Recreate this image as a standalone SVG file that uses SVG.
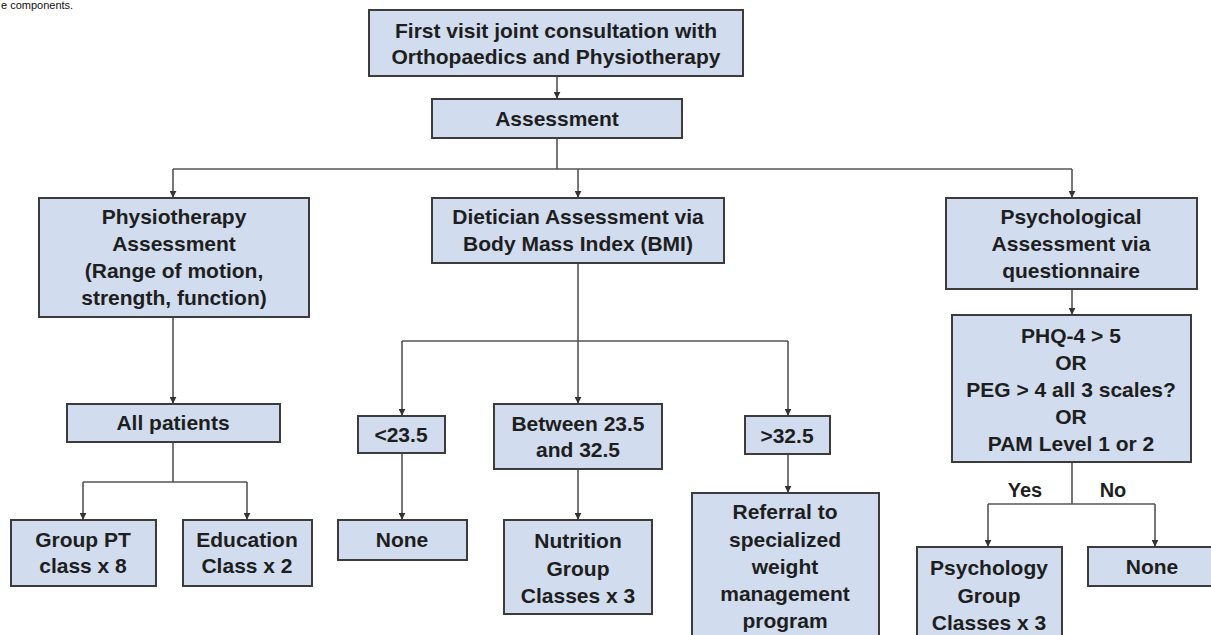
<svg xmlns="http://www.w3.org/2000/svg" width="1211" height="635" viewBox="0 0 1211 635">
<defs>
<style>
.box{fill:#d1dcee;stroke:#3c3c3c;stroke-width:2}
.t{font-family:"Liberation Sans",Arial,sans-serif;font-weight:bold;font-size:21px;fill:#1e1e1e;text-anchor:middle}
.lbl{font-family:"Liberation Sans",Arial,sans-serif;font-weight:bold;font-size:20px;fill:#1e1e1e;text-anchor:middle}
.c{fill:none;stroke:#555;stroke-width:1.6}
.cap{font-family:"Liberation Sans",Arial,sans-serif;font-size:11px;fill:#111}
</style>
<marker id="ah" viewBox="0 0 10 10" refX="9" refY="5" markerWidth="7" markerHeight="7" orient="auto" markerUnits="userSpaceOnUse">
<path d="M0,0 L10,5 L0,10 z" fill="#333"/>
</marker>
</defs>
<rect width="1211" height="635" fill="#fff"/>
<text class="cap" x="1" y="9">e components.</text>

<g id="connectors">
<path class="c" d="M557,76 V98" marker-end="url(#ah)"/>
<path class="c" d="M557,138 V169"/>
<path class="c" d="M173,169 H1072"/>
<path class="c" d="M173,169 V197" marker-end="url(#ah)"/>
<path class="c" d="M578,169 V197" marker-end="url(#ah)"/>
<path class="c" d="M1072,169 V197" marker-end="url(#ah)"/>
<path class="c" d="M173,317 V403" marker-end="url(#ah)"/>
<path class="c" d="M173,442 V482 M83,482 H247"/>
<path class="c" d="M83,482 V519" marker-end="url(#ah)"/>
<path class="c" d="M247,482 V519" marker-end="url(#ah)"/>
<path class="c" d="M578,263 V341 M402,341 H788"/>
<path class="c" d="M402,341 V415" marker-end="url(#ah)"/>
<path class="c" d="M578,341 V403" marker-end="url(#ah)"/>
<path class="c" d="M788,341 V415" marker-end="url(#ah)"/>
<path class="c" d="M402,453 V519" marker-end="url(#ah)"/>
<path class="c" d="M578,469 V519" marker-end="url(#ah)"/>
<path class="c" d="M788,454 V492" marker-end="url(#ah)"/>
<path class="c" d="M1072,289 V314" marker-end="url(#ah)"/>
<path class="c" d="M1072,462 V504 M988,504 H1155"/>
<path class="c" d="M988,504 V546" marker-end="url(#ah)"/>
<path class="c" d="M1155,504 V546" marker-end="url(#ah)"/>
<text class="lbl" x="1025" y="497">Yes</text>
<text class="lbl" x="1113" y="497">No</text>
</g>

<g id="n-first">
<rect class="box" x="369" y="10" width="374" height="66"/>
<text class="t" x="556" y="38">First visit joint consultation with</text>
<text class="t" x="556" y="64">Orthopaedics and Physiotherapy</text>
</g>
<g id="n-assessment">
<rect class="box" x="432" y="99" width="250" height="39"/>
<text class="t" x="557" y="126">Assessment</text>
</g>
<g id="n-physio">
<rect class="box" x="39" y="198" width="270" height="119"/>
<text class="t" x="174" y="224">Physiotherapy</text>
<text class="t" x="174" y="251">Assessment</text>
<text class="t" x="174" y="278">(Range of motion,</text>
<text class="t" x="174" y="305">strength, function)</text>
</g>
<g id="n-diet">
<rect class="box" x="432" y="198" width="292" height="65"/>
<text class="t" x="578" y="224">Dietician Assessment via</text>
<text class="t" x="578" y="251">Body Mass Index (BMI)</text>
</g>
<g id="n-psych">
<rect class="box" x="946" y="198" width="251" height="91"/>
<text class="t" x="1071" y="224">Psychological</text>
<text class="t" x="1071" y="251">Assessment via</text>
<text class="t" x="1071" y="278">questionnaire</text>
</g>
<g id="n-all">
<rect class="box" x="67" y="404" width="213" height="38"/>
<text class="t" x="173" y="430">All patients</text>
</g>
<g id="n-grouppt">
<rect class="box" x="11" y="520" width="145" height="66"/>
<text class="t" x="83" y="547">Group PT</text>
<text class="t" x="83" y="573">class x 8</text>
</g>
<g id="n-edu">
<rect class="box" x="183" y="520" width="129" height="66"/>
<text class="t" x="247" y="547">Education</text>
<text class="t" x="247" y="573">Class x 2</text>
</g>
<g id="n-lt">
<rect class="box" x="358" y="416" width="87" height="37"/>
<text class="t" x="401" y="442">&lt;23.5</text>
</g>
<g id="n-none1">
<rect class="box" x="338" y="520" width="129" height="40"/>
<text class="t" x="402" y="547">None</text>
</g>
<g id="n-between">
<rect class="box" x="494" y="404" width="168" height="65"/>
<text class="t" x="578" y="431">Between 23.5</text>
<text class="t" x="578" y="457">and 32.5</text>
</g>
<g id="n-nutrition">
<rect class="box" x="504" y="520" width="148" height="94"/>
<text class="t" x="578" y="548">Nutrition</text>
<text class="t" x="578" y="576">Group</text>
<text class="t" x="578" y="603">Classes x 3</text>
</g>
<g id="n-gt">
<rect class="box" x="745" y="416" width="85" height="38"/>
<text class="t" x="787" y="443">&gt;32.5</text>
</g>
<g id="n-referral">
<rect class="box" x="692" y="493" width="187" height="150"/>
<text class="t" x="785" y="519">Referral to</text>
<text class="t" x="785" y="547">specialized</text>
<text class="t" x="785" y="574">weight</text>
<text class="t" x="785" y="601">management</text>
<text class="t" x="785" y="628">program</text>
</g>
<g id="n-phq">
<rect class="box" x="952" y="315" width="239" height="147"/>
<text class="t" x="1071" y="343">PHQ-4 &gt; 5</text>
<text class="t" x="1071" y="370">OR</text>
<text class="t" x="1071" y="397">PEG &gt; 4 all 3 scales?</text>
<text class="t" x="1071" y="424">OR</text>
<text class="t" x="1071" y="451">PAM Level 1 or 2</text>
</g>
<g id="n-psychgroup">
<rect class="box" x="917" y="547" width="145" height="100"/>
<text class="t" x="989" y="575">Psychology</text>
<text class="t" x="989" y="603">Group</text>
<text class="t" x="989" y="630">Classes x 3</text>
</g>
<g id="n-none2">
<rect class="box" x="1088" y="547" width="130" height="39"/>
<text class="t" x="1152" y="574">None</text>
</g>
</svg>
